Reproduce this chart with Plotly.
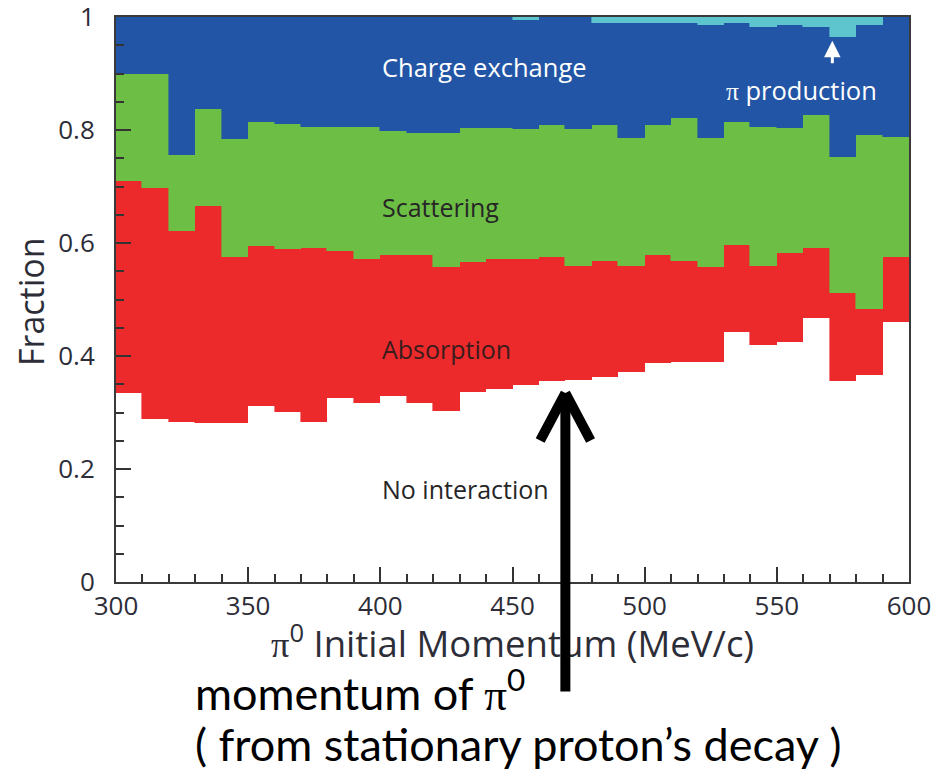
import plotly.graph_objects as go

# ---------------- data (fractions per 10 MeV/c bin) ----------------
bin_low = list(range(300, 600, 10))  # lower bin edges, MeV/c

no_interaction = [0.334, 0.288, 0.284, 0.281, 0.281, 0.312, 0.301, 0.284, 0.326, 0.316,
                  0.330, 0.316, 0.302, 0.337, 0.341, 0.349, 0.355, 0.358, 0.362, 0.372,
                  0.387, 0.390, 0.390, 0.443, 0.419, 0.425, 0.468, 0.355, 0.366, 0.461]
absorption = [0.375, 0.410, 0.337, 0.385, 0.294, 0.283, 0.288, 0.308, 0.259, 0.255,
              0.248, 0.262, 0.256, 0.230, 0.230, 0.222, 0.220, 0.202, 0.206, 0.188,
              0.191, 0.178, 0.167, 0.153, 0.141, 0.157, 0.124, 0.156, 0.117, 0.114]
scattering = [0.191, 0.202, 0.135, 0.171, 0.209, 0.220, 0.222, 0.213, 0.220, 0.234,
              0.220, 0.217, 0.237, 0.237, 0.233, 0.230, 0.233, 0.242, 0.240, 0.225,
              0.230, 0.254, 0.228, 0.219, 0.245, 0.221, 0.234, 0.242, 0.308, 0.213]
charge_exchange = [0.100, 0.100, 0.244, 0.163, 0.216, 0.185, 0.189, 0.195, 0.195, 0.195,
                   0.202, 0.205, 0.205, 0.196, 0.196, 0.193, 0.192, 0.198, 0.181, 0.204,
                   0.181, 0.168, 0.201, 0.175, 0.178, 0.183, 0.157, 0.212, 0.195, 0.212]
pi_production = [0, 0, 0, 0, 0, 0, 0, 0, 0, 0,
                 0, 0, 0, 0, 0, 0.006, 0, 0, 0.011, 0.011,
                 0.011, 0.010, 0.014, 0.010, 0.017, 0.014, 0.017, 0.035, 0.014, 0]

series = [
    ("No interaction", no_interaction, "#ffffff"),
    ("Absorption", absorption, "#ec2a2c"),
    ("Scattering", scattering, "#6dbe45"),
    ("Charge exchange", charge_exchange, "#2255a5"),
    ("π production", pi_production, "#5ec4ce"),
]

x_tick_vals = [300, 350, 400, 450, 500, 550, 600]
y_tick_vals = [0, 0.2, 0.4, 0.6, 0.8, 1]

AX_FONT = "Open Sans"
AX_COLOR = "#2d2d38"
PI = "<span style=\"font-family:'Liberation Serif'\">π</span>"

fig = go.Figure()
bin_centres = [b + 5 for b in bin_low]
for name, vals, col in series:
    fig.add_trace(go.Bar(
        x=bin_centres, y=vals, width=10, name=name,
        marker=dict(color=col, line=dict(color=col, width=0.6 if col != "#ffffff" else 0)),
        showlegend=False, hoverinfo="skip",
    ))

fig.update_layout(
    width=941, height=770,
    margin=dict(l=116, r=32, t=17, b=188, autoexpand=False),
    paper_bgcolor="white", plot_bgcolor="white",
    barmode="stack", bargap=0,
    font=dict(family=AX_FONT, color=AX_COLOR),
)

fig.update_xaxes(
    range=[300, 600], tickvals=x_tick_vals, ticks="inside", ticklen=15, tickwidth=2,
    tickcolor="#333", showgrid=False, zeroline=False, showline=True, linewidth=2,
    linecolor="#3a3a3a", mirror=True, tickfont=dict(size=26, family=AX_FONT, color=AX_COLOR),
    ticklabelstandoff=0, ticklabeloverflow="allow", automargin=False,
    minor=dict(dtick=10, ticks="inside", ticklen=8, tickwidth=2, tickcolor="#333", showgrid=False),
)
fig.update_yaxes(
    range=[0, 1], tickvals=y_tick_vals, ticks="inside", ticklen=15, tickwidth=2,
    tickcolor="#333", showgrid=False, zeroline=False, showline=True, linewidth=2,
    linecolor="#3a3a3a", mirror=True, tickfont=dict(size=26, family=AX_FONT, color=AX_COLOR),
    ticklabelstandoff=14, ticklabeloverflow="allow", automargin=False,
    minor=dict(dtick=0.05, ticks="inside", ticklen=8, tickwidth=2, tickcolor="#333", showgrid=False),
)

annotations = [
    # axis titles
    dict(text="Fraction", x=(31 - 116) / 793, y=(582 - 302) / 565, xref="paper", yref="paper",
         textangle=-90, xanchor="center", yanchor="middle",
         showarrow=False, font=dict(size=34, family=AX_FONT, color=AX_COLOR)),
    dict(text=PI + "<sup>0</sup> Initial Momentum (MeV/c)", x=0.5, y=(582 - 641) / 565,
         xref="paper", yref="paper", xanchor="center", yanchor="middle",
         showarrow=False, font=dict(size=36.5, family=AX_FONT, color=AX_COLOR)),
    # region labels
    dict(text="Charge exchange", x=400, y=0.912, xref="x", yref="y", xanchor="left",
         showarrow=False, font=dict(size=25.5, family=AX_FONT, color="white")),
    dict(text="Scattering", x=400, y=0.664, xref="x", yref="y", xanchor="left",
         showarrow=False, font=dict(size=25, family=AX_FONT, color="#262626")),
    dict(text="Absorption", x=400, y=0.412, xref="x", yref="y", xanchor="left",
         showarrow=False, font=dict(size=25, family=AX_FONT, color="#3a1c1c")),
    dict(text="No interaction", x=400, y=0.165, xref="x", yref="y", xanchor="left",
         showarrow=False, font=dict(size=25, family=AX_FONT, color="#262626")),
    dict(text=PI + " production", x=530, y=0.871, xref="x", yref="y", xanchor="left",
         showarrow=False, font=dict(size=25.5, family=AX_FONT, color="white")),
    dict(text="", x=571, y=0.958, xref="x", yref="y", ax=0, ay=24,
         showarrow=True, arrowhead=2, arrowsize=1.1, arrowwidth=3, arrowcolor="white"),
    # lower commentary
    dict(text="momentum of " + PI + "<sup>0</sup>", x=(193 - 116) / 793, y=(582 - 690) / 565,
         xref="paper", yref="paper", xanchor="left", yanchor="middle", showarrow=False,
         font=dict(size=45, family="Lato", color="black")),
    dict(text="( from stationary proton’s decay )", x=(193 - 116) / 793, y=(582 - 744) / 565,
         xref="paper", yref="paper", xanchor="left", yanchor="middle", showarrow=False,
         font=dict(size=45, family="Lato", color="black")),
    # big black arrow (shaft + two wings), drawn over the axis title
    dict(text="", x=470, y=(582 - 393) / 565, xref="x", yref="paper", ax=0, ay=300,
         showarrow=True, arrowhead=0, arrowwidth=10, arrowcolor="black"),
    dict(text="", x=470, y=(582 - 393) / 565, xref="x", yref="paper", ax=-26, ay=49,
         showarrow=True, arrowhead=0, arrowwidth=10, arrowcolor="black"),
    dict(text="", x=470, y=(582 - 393) / 565, xref="x", yref="paper", ax=26, ay=49,
         showarrow=True, arrowhead=0, arrowwidth=10, arrowcolor="black"),
]
fig.update_layout(annotations=annotations)

fig.write_html("out.html")
